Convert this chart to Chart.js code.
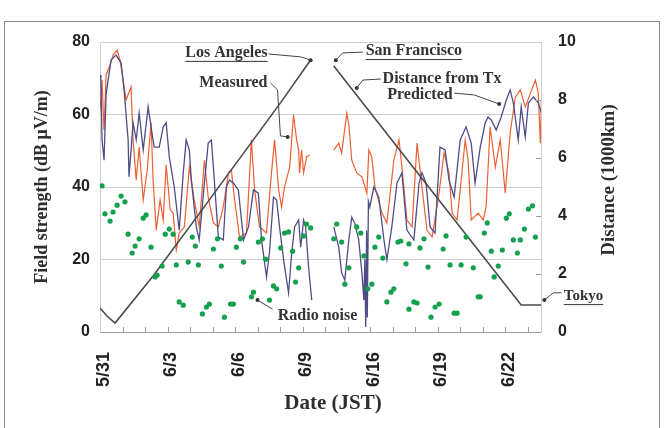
<!DOCTYPE html>
<html lang="en">
<head>
<meta charset="UTF-8">
<title>Field strength and distance from Tx</title>
<script src="https://cdn.jsdelivr.net/npm/chart.js"></script>
<style>
  html, body { margin: 0; padding: 0; background: white; }
  #wrap { width: 665px; height: 428px; }
</style>
</head>
<body>
<div id="wrap"><canvas id="fs" width="665" height="428"></canvas></div>
<script>
// x is a day index; the days between 6/10 and 6/16 are cut out of the axis
const dayTicks = [0, 3, 6, 9, 12, 15, 18];
const dayLabels = ['5/31', '6/3', '6/6', '6/9', '6/16', '6/19', '6/22'];

// Measured field strength (dB uV/m)
const measX = [0.00,0.09,0.18,0.27,0.45,0.58,0.76,0.89,1.03,1.16,1.38,1.47,1.61,1.74,1.92,2.10,2.27,2.36,2.50,2.67,2.81,2.94,3.12,3.25,3.39,3.52,3.75,3.97,4.19,4.41,4.64,4.81,5.04,5.26,5.48,5.71,5.84,5.97,6.20,6.51,6.73,6.87,7.09,7.40,7.62,7.76,7.94,8.07,8.20,8.43,8.60,8.74,8.83,8.87,8.96,9.05,9.18,9.32,
  9.90,
  10.39,10.61,10.74,10.97,11.06,11.19,11.41,11.64,11.86,11.95,12.08,12.22,12.53,12.75,13.06,13.29,13.42,13.64,13.87,14.09,14.31,14.53,14.76,15.07,15.29,15.51,15.65,15.87,16.01,16.23,16.36,16.50,16.81,17.03,17.16,17.34,17.57,17.79,18.01,18.23,18.46,18.68,18.90,19.13,19.35,19.48,19.57,19.62];
const measY = [61.2,69.5,55.7,70.9,73.7,76.4,77.8,75.0,69.5,64.0,67.6,53.0,41.9,51.0,36.4,44.7,57.7,41.9,28.1,36.4,30.9,46.1,33.7,32.8,22.6,27.3,29.0,45.5,36.4,29.0,47.4,37.2,30.1,29.0,34.5,43.9,44.7,37.2,26.2,27.3,53.0,39.2,29.0,27.3,43.9,53.0,39.2,34.5,40.0,45.5,59.9,53.0,50.2,43.9,50.2,43.9,48.3,48.8,
  null,
  50.2,52.1,49.4,60.4,57.1,47.4,43.9,42.8,38.3,50.2,48.3,40.0,32.8,30.1,47.4,53.0,45.5,30.9,29.0,52.1,40.0,28.1,26.2,38.3,49.4,43.9,32.8,30.9,39.2,53.0,47.4,30.9,32.8,30.9,34.5,56.6,45.5,53.0,38.3,54.9,64.8,66.8,62.1,65.9,69.5,65.9,52.1,64.0];

// Predicted field strength (dB uV/m)
const predX = [0.00,0.04,0.09,0.18,0.27,0.36,0.49,0.71,0.94,1.07,1.25,1.29,1.47,1.61,1.74,1.92,2.14,2.27,2.41,2.63,2.81,2.94,3.08,3.30,3.52,3.70,3.83,3.97,4.06,4.28,4.41,4.64,4.81,4.95,5.08,5.26,5.48,5.62,5.75,5.93,6.15,6.38,6.60,6.82,7.04,7.18,7.40,7.53,7.71,7.85,7.98,8.16,8.38,8.52,8.65,8.83,8.92,9.05,9.14,9.27,9.41,
  9.90,
  10.39,10.61,10.74,10.88,11.06,11.19,11.32,11.50,11.64,11.73,11.77,11.81,11.85,11.88,11.93,11.99,12.17,12.39,12.62,12.75,12.97,13.20,13.42,13.64,13.95,14.18,14.31,14.49,14.67,14.89,15.11,15.34,15.51,15.74,16.01,16.27,16.50,16.67,16.90,17.12,17.25,17.39,17.61,17.83,18.06,18.23,18.37,18.59,18.72,18.90,19.04,19.26,19.48,19.62];
const predY = [70.9,69.5,53.0,47.4,65.4,69.5,75.0,76.4,74.2,66.8,53.0,42.8,57.7,53.0,60.4,50.2,62.1,56.6,51.0,51.0,56.6,57.7,48.3,40.0,28.1,43.9,53.0,50.2,41.9,29.0,25.4,41.1,52.1,53.0,41.9,26.2,25.4,40.0,41.9,41.1,39.2,25.4,29.0,39.2,38.3,25.4,15.2,21.8,37.2,36.4,29.0,19.9,10.8,21.8,29.0,30.9,23.4,30.9,29.0,17.9,8.8,
  null,
  29.0,23.4,16.3,14.3,25.4,31.7,30.1,25.4,16.3,8.8,20.0,1.4,28.0,4.0,36.0,34.5,40.0,37.2,25.4,19.9,29.0,41.1,43.9,28.1,25.4,41.1,43.9,41.1,29.0,27.3,51.0,50.2,41.9,37.2,53.0,56.6,52.1,41.1,51.0,57.7,59.3,58.5,55.7,59.3,64.0,66.8,63.2,53.0,62.1,53.8,63.2,64.8,63.2,60.4];

// Radio noise (dB uV/m)
const noiseX = [0.09,0.22,0.45,0.58,0.76,0.94,1.11,1.25,1.43,1.56,1.74,1.92,2.05,2.27,2.45,2.54,2.76,2.90,3.08,3.25,3.39,3.52,3.70,3.92,4.10,4.24,4.37,4.55,4.73,4.86,5.04,5.22,5.39,5.53,5.80,5.93,6.06,6.24,6.38,6.73,6.82,7.04,7.22,7.36,7.53,7.71,7.85,8.03,8.20,8.38,8.56,8.69,8.83,9.05,9.18,9.36,
  10.39,10.52,10.74,10.88,11.06,11.41,11.59,11.73,11.90,12.08,12.22,12.39,12.57,12.75,12.93,13.06,13.24,13.37,13.60,13.73,13.73,13.95,14.09,14.22,14.40,14.58,14.71,14.89,15.07,15.25,15.38,15.56,15.74,15.87,16.05,16.27,16.59,16.81,16.90,17.08,17.21,17.39,17.52,17.70,17.88,18.06,18.19,18.37,18.55,18.68,18.86,19.04,19.22,19.35];
const noiseY = [40.3,32.6,30.6,33.1,35.0,37.5,35.9,27.0,21.8,23.7,25.7,31.4,32.3,23.4,15.2,15.7,18.2,27.0,28.4,27.0,18.5,8.3,7.4,19.3,26.2,23.7,18.5,5.0,6.9,7.7,22.9,25.7,18.2,4.1,7.7,7.7,23.4,25.7,19.3,9.7,11.0,24.8,25.7,20.1,8.8,12.7,11.9,23.2,27.3,27.6,22.3,13.8,17.7,26.5,29.8,28.7,
  25.7,29.8,24.8,13.2,17.7,29.0,27.3,21.0,11.9,13.2,23.4,26.2,20.4,8.3,11.0,11.9,24.8,25.1,18.8,24.3,6.3,8.3,8.0,23.2,25.7,17.9,4.1,6.9,7.7,22.9,26.5,18.5,5.2,5.2,18.5,26.2,17.7,9.7,9.7,27.3,30.1,22.3,15.2,18.2,22.6,31.4,32.6,25.4,21.8,25.4,28.4,33.9,34.8,26.2];

// Distance from Tx (1000 km), right axis
const distX = [0, 0.31, 0.67, 2.36, 4.01, 8.02, 9.36, 9.90, 10.39, 18.72, 19.6];
const distY = [0.83, 0.55, 0.31, 1.93, 3.66, 7.90, 9.38, null, 9.17, 0.93, 0.93];

const pts = (xs, ys) => xs.map((x, i) => ({ x: x, y: ys[i] }));

const serif = '"Liberation Serif", "Times New Roman", serif';
const sans = '"Liberation Sans", Arial, sans-serif';

// label text, anchor (day index, dB), leader path and tip, all in axis units
const notes = [
  { text: 'Los Angeles', x: 5.62, y: 77.0, u: true, path: [[7.49, 76.7], [8.92, 75.9], [9.36, 75.0]] },
  { text: 'San Francisco', x: 13.95, y: 77.5, u: true, path: [[11.68, 77.2], [10.79, 77.0], [10.48, 75.0]] },
  { text: 'Measured', x: 5.93, y: 68.7, path: [[7.58, 68.7], [7.89, 66.8], [8.02, 54.1], [8.34, 53.8]] },
  { text: 'Distance from Tx', x: 15.20, y: 69.8, path: [[12.48, 69.8], [11.68, 69.5], [11.41, 67.3]] },
  { text: 'Predicted', x: 14.22, y: 65.4, path: [[15.74, 65.9], [16.63, 65.4], [17.74, 62.9]] },
  { text: 'Radio noise', x: 9.67, y: 4.4, path: [[7.67, 6.3], [7.0, 8.8]] },
  { text: 'Tokyo', x: 21.49, y: 9.9, u: true, size: 15, path: [[20.51, 10.8], [20.15, 10.8], [19.75, 8.8]] }
];

const decor = {
  id: 'decor',
  beforeDraw(chart) {
    const c = chart.ctx;
    c.save();
    c.strokeStyle = '#8a8a8a';
    c.lineWidth = 1;
    c.strokeRect(4.5, 21.5, 655, 440);
    c.restore();
  },
  afterDraw(chart) {
    const c = chart.ctx, a = chart.chartArea;
    const xs = chart.scales.x, ys = chart.scales.y, y2 = chart.scales.y2;
    c.save();
    // top frame line
    c.strokeStyle = '#cfcfcf';
    c.lineWidth = 1;
    c.beginPath();
    c.moveTo(a.left, a.top + 0.5);
    c.lineTo(a.right, a.top + 0.5);
    c.stroke();
    // day ticks
    c.strokeStyle = '#999';
    c.beginPath();
    for (let d = 1; d <= 19; d++) {
      const px = Math.round(xs.getPixelForValue(d)) + 0.5;
      c.moveTo(px, a.bottom);
      c.lineTo(px, a.bottom - 5);
    }
    for (let v = 2; v <= 8; v += 2) {
      const py = Math.round(y2.getPixelForValue(v)) + 0.5;
      c.moveTo(a.right, py);
      c.lineTo(a.right - 5, py);
    }
    c.stroke();

    // axis titles
    c.fillStyle = '#2e2e2e';
    c.textAlign = 'center';
    c.textBaseline = 'middle';
    c.font = 'bold 18px ' + serif;
    c.save();
    c.translate(42, (a.top + a.bottom) / 2);
    c.rotate(-Math.PI / 2);
    c.fillText('Field strength (dB \u03bcV/m)', 0, 0);
    c.restore();
    c.font = 'bold 19px ' + serif;
    c.save();
    c.translate(609, 180);
    c.rotate(-Math.PI / 2);
    c.fillText('Distance (1000km)', 0, 0);
    c.restore();
    c.font = 'bold 21px ' + serif;
    c.fillText('Date (JST)', 333, 404);

    // annotations
    notes.forEach(n => {
      const tx = xs.getPixelForValue(n.x), ty = ys.getPixelForValue(n.y);
      c.font = 'bold ' + (n.size || 16) + 'px ' + serif;
      c.fillStyle = '#333';
      c.fillText(n.text, tx, ty);
      if (n.u) {
        const w = c.measureText(n.text).width;
        c.beginPath();
        c.moveTo(tx - w / 2, ty + 8.5);
        c.lineTo(tx + w / 2, ty + 8.5);
        c.strokeStyle = '#333';
        c.stroke();
      }
      c.beginPath();
      n.path.forEach((p, i) => {
        const px = xs.getPixelForValue(p[0]), py = ys.getPixelForValue(p[1]);
        if (i === 0) c.moveTo(px, py); else c.lineTo(px, py);
      });
      c.strokeStyle = '#444';
      c.lineWidth = 1;
      c.stroke();
      const tip = n.path[n.path.length - 1];
      c.beginPath();
      c.arc(xs.getPixelForValue(tip[0]), ys.getPixelForValue(tip[1]), 2, 0, Math.PI * 2);
      c.fillStyle = '#333';
      c.fill();
    });
    c.restore();
  }
};

new Chart(document.getElementById('fs'), {
  type: 'line',
  data: {
    datasets: [
      {
        type: 'scatter', label: 'Radio noise', data: pts(noiseX, noiseY),
        showLine: false, pointRadius: 2.6, pointBackgroundColor: '#14a04c', pointBorderWidth: 0
      },
      {
        label: 'Distance from Tx', data: pts(distX, distY), yAxisID: 'y2',
        borderColor: '#4a4a4a', borderWidth: 1.6, pointRadius: 0, spanGaps: false
      },
      {
        label: 'Predicted', data: pts(predX, predY),
        borderColor: '#4f4d88', borderWidth: 1.3, pointRadius: 0, spanGaps: false
      },
      {
        label: 'Measured', data: pts(measX, measY),
        borderColor: '#ee6034', borderWidth: 1.2, pointRadius: 0, spanGaps: false
      }
    ]
  },
  options: {
    responsive: false,
    animation: false,
    events: [],
    layout: { padding: { top: 42, left: 0, right: 0, bottom: 0 } },
    plugins: { legend: { display: false }, tooltip: { enabled: false } },
    scales: {
      x: {
        type: 'linear', min: 0, max: 19.6,
        afterFit: s => { s.height = 96; },
        afterBuildTicks: s => { s.ticks = dayTicks.map(v => ({ value: v })); },
        grid: { display: false },
        border: { color: '#9a9a9a' },
        ticks: {
          autoSkip: false, minRotation: 90, maxRotation: 90, padding: 12, labelOffset: 4,
          color: '#222', font: { family: sans, size: 18, weight: 'bold' },
          callback: v => dayLabels[dayTicks.indexOf(v)]
        }
      },
      y: {
        position: 'left', min: 0, max: 80,
        afterFit: s => { s.width = 100; },
        grid: { color: '#cfcfcf', drawTicks: false },
        border: { color: '#cfcfcf' },
        ticks: { stepSize: 20, padding: 10, color: '#222', font: { family: sans, size: 16, weight: 'bold' } }
      },
      y2: {
        position: 'right', min: 0, max: 10,
        afterFit: s => { s.width = 124; },
        grid: { drawOnChartArea: false, drawTicks: false },
        border: { color: '#cfcfcf' },
        ticks: { stepSize: 2, padding: 17, color: '#222', font: { family: sans, size: 16, weight: 'bold' } }
      }
    }
  },
  plugins: [decor]
});
</script>
</body>
</html>
